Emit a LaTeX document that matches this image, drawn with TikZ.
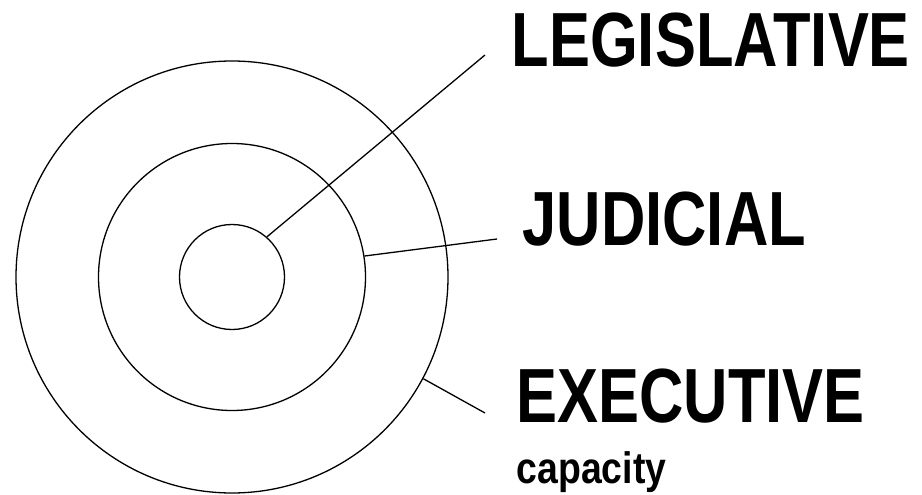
\documentclass[tikz,border=0pt]{standalone}
\usepackage{fontspec}
\newfontfamily\branchfont[FakeStretch=0.8]{Liberation Sans}
\newfontfamily\notefont[FakeStretch=0.85]{Liberation Sans}

\begin{document}
\begin{tikzpicture}[x=0.5pt, y=0.5pt, line width=0.65pt]
	\tikzstyle{ring}=[draw=black, circle, inner sep=0pt]
	\tikzstyle{branch}=[anchor=base west, inner sep=0pt, font=\branchfont\bfseries\fontsize{38.4}{40}\selectfont]
	\tikzstyle{note}=[anchor=base west, inner sep=0pt, font=\notefont\bfseries\fontsize{22}{24}\selectfont]

	\useasboundingbox (0,0) rectangle (922,494);

	% the three rings (sizes in pt: half of the pixel diameter)
	\coordinate (c) at (232,217);
	\node[ring, minimum size=52.5pt] (inner) at (c) {};
	\node[ring, minimum size=133.5pt] (middle) at (c) {};
	\node[ring, minimum size=216pt] (outer) at (c) {};

	% labels
	\node[branch] (leg) at (511,427) {LEGISLATIVE};
	\node[branch] (jud) at (522,249) {JUDICIAL};
	\node[branch] (exe) at (516,72) {EXECUTIVE};
	\node[note] (cap) at (516,11) {capacity};

	\coordinate (legend) at (485,439);
	\coordinate (judend) at (497,255);
	\coordinate (exeend) at (485,81);

	\draw (inner.49) -- (legend);
	\draw (middle.9) -- (judend);
	\draw (outer.-28) -- (exeend);
\end{tikzpicture}
\end{document}
